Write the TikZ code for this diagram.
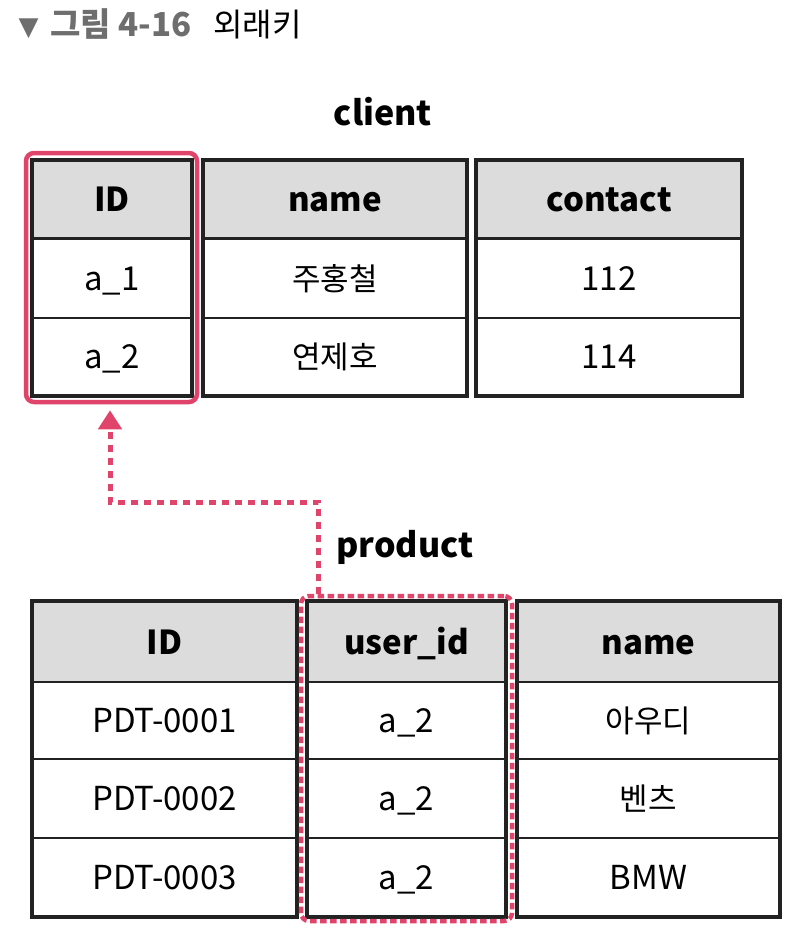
\documentclass[tikz,border=0pt]{standalone}
\usepackage{fontspec}
\setmainfont{Noto Sans CJK KR}
\newfontfamily\symfont{DejaVu Sans}
\usetikzlibrary{arrows.meta}
\definecolor{fkred}{HTML}{E0446A}
\definecolor{headgray}{HTML}{DCDCDC}
\definecolor{titlegray}{HTML}{6E6E6E}
\definecolor{inkblack}{HTML}{222222}

\begin{document}
\begin{tikzpicture}[x=1pt,y=-1pt,
  cell/.style={draw=inkblack,line width=2pt,inner sep=0pt,text height=26pt,text depth=2pt,font=\fontsize{33}{36}\selectfont},
  head/.style={cell,fill=headgray,font=\fontsize{33}{36}\selectfont\bfseries},
  kor/.style={font=\fontsize{31}{34}\selectfont},
  colframe/.style={draw=inkblack,line width=3.5pt},
  tlabel/.style={font=\fontsize{34}{36}\selectfont\bfseries},
  fkframe/.style={draw=fkred,line width=4.5pt,rounded corners=8pt,inner sep=0pt},
  fkarrow/.style={draw=fkred,line width=5pt,dash pattern=on 7pt off 6pt,-{Triangle[width=23pt,length=19pt]}}]
  \useasboundingbox (0,0) rectangle (802,946);

  \node[anchor=base west,text=titlegray,font=\symfont\fontsize{26}{28}\selectfont] (tri) at (15,35) {▼};
  \node[anchor=base west,text=titlegray,font=\fontsize{33}{36}\selectfont\bfseries] (fignum) at (47,36) {그림 4-16};
  \node[anchor=base west,font=\fontsize{32}{34}\selectfont] (figname) at (210,36) {외래키};

  \node[tlabel] (client) at (383,112) {client};
  \node[head,minimum width=158pt,minimum height=78pt] (cidh) at (112,199.5) {ID};
  \node[cell,minimum width=158pt,minimum height=80pt] (cid1) at (112,278) {a\_1};
  \node[cell,minimum width=158pt,minimum height=77pt] (cid2) at (112,356.5) {a\_2};
  \node[head,minimum width=262pt,minimum height=78pt] (cnameh) at (335,199.5) {name};
  \node[cell,kor,minimum width=262pt,minimum height=80pt] (cname1) at (335,278) {주홍철};
  \node[cell,kor,minimum width=262pt,minimum height=77pt] (cname2) at (335,356.5) {연제호};
  \node[head,minimum width=264pt,minimum height=78pt] (ccoh) at (609,199.5) {contact};
  \node[cell,minimum width=264pt,minimum height=80pt] (cco1) at (609,278) {112};
  \node[cell,minimum width=264pt,minimum height=77pt] (cco2) at (609,356.5) {114};
  \draw[colframe] (cidh.north west) rectangle (cid2.south east);
  \draw[colframe] (cnameh.north west) rectangle (cname2.south east);
  \draw[colframe] (ccoh.north west) rectangle (cco2.south east);
  \node[fkframe,minimum width=171pt,minimum height=249pt] (cfk) at (111.5,277.5) {};

  \node[tlabel] (product) at (405,547) {product};
  \node[head,minimum width=263pt,minimum height=80pt] (pidh) at (164.5,642) {ID};
  \node[cell,minimum width=263pt,minimum height=77pt] (pid1) at (164.5,720.5) {PDT-0001};
  \node[cell,minimum width=263pt,minimum height=79pt] (pid2) at (164.5,798.5) {PDT-0002};
  \node[cell,minimum width=263pt,minimum height=78pt] (pid3) at (164.5,877) {PDT-0003};
  \node[head,minimum width=197pt,minimum height=80pt] (puh) at (406.5,642) {user\_id};
  \node[cell,minimum width=197pt,minimum height=77pt] (pu1) at (406.5,720.5) {a\_2};
  \node[cell,minimum width=197pt,minimum height=79pt] (pu2) at (406.5,798.5) {a\_2};
  \node[cell,minimum width=197pt,minimum height=78pt] (pu3) at (406.5,877) {a\_2};
  \node[head,minimum width=261pt,minimum height=80pt] (pnameh) at (648.5,642) {name};
  \node[cell,kor,minimum width=261pt,minimum height=77pt] (pname1) at (648.5,720.5) {아우디};
  \node[cell,kor,minimum width=261pt,minimum height=79pt] (pname2) at (648.5,798.5) {벤츠};
  \node[cell,minimum width=261pt,minimum height=78pt] (pname3) at (648.5,877) {BMW};
  \draw[colframe] (pidh.north west) rectangle (pid3.south east);
  \draw[colframe] (puh.north west) rectangle (pu3.south east);
  \draw[colframe] (pnameh.north west) rectangle (pname3.south east);
  \node[fkframe,dash pattern=on 6.5pt off 3.5pt,minimum width=211pt,minimum height=325pt] (pfk) at (406.5,758.5) {};

  \coordinate (turn) at (110,502);
  \coordinate (tip) at (cfk.south -| turn);
  \draw[fkarrow] ([xshift=20pt]pfk.north west) |- (turn) -- ([yshift=-6pt]tip);
\end{tikzpicture}
\end{document}
